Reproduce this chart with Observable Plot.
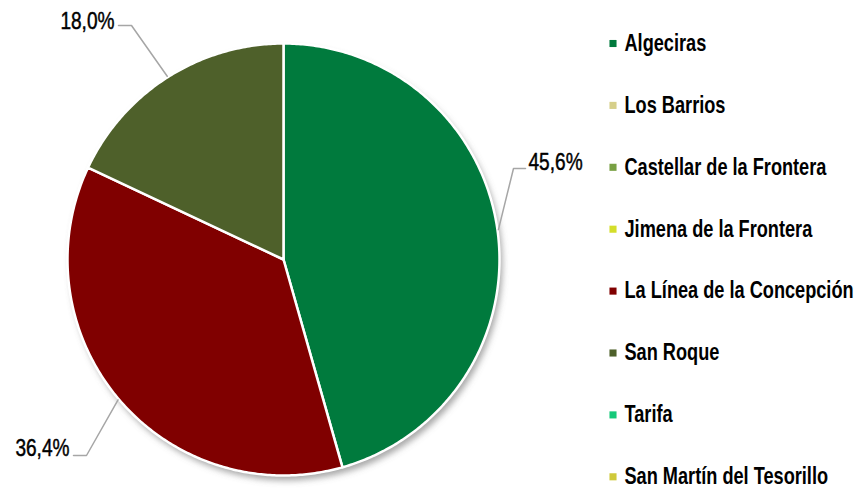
<!DOCTYPE html>
<html>
<head>
<meta charset="utf-8">
<script src="https://cdn.jsdelivr.net/npm/d3@7"></script>
<script src="https://cdn.jsdelivr.net/npm/@observablehq/plot@0.6"></script>
<style>
  html, body { margin: 0; padding: 0; background: #fff; }
  #chart svg { display: block; }
</style>
</head>
<body>
<div id="chart"></div>
<script>
// ---- data ----
const municipios = ["Algeciras", "Los Barrios", "Castellar de la Frontera", "Jimena de la Frontera",
  "La Línea de la Concepción", "San Roque", "Tarifa", "San Martín del Tesorillo"];
const porcentajes = [45.6, 0, 0, 0, 36.4, 18.0, 0, 0];
const etiquetas = ["45,6%", "", "", "", "36,4%", "18,0%", "", ""];
const colores = ["#007A3D", "#D6CF8A", "#78A043", "#D4DE2A", "#800000", "#4E602A", "#16C97A", "#CFC93A"];

// ---- layout ----
const W = 858, H = 490;
const cx = 283, cy = 259, R = 216;
const FONT = "'Liberation Sans', Arial, sans-serif";
// label placement (elbow point and text anchor) per labelled slice
const labelLayout = {
  "Algeciras": {elbow: [513, 168], end: [525, 168], text: [528, 162], anchor: "start"},
  "La Línea de la Concepción": {elbow: [86, 455], end: [73, 455], text: [69, 448], anchor: "end"},
  "San Roque": {elbow: [131, 25], end: [118, 25], text: [114, 21], anchor: "end"}
};

const rows = municipios.map((m, i) => ({name: m, value: porcentajes[i], label: etiquetas[i]}));
const arcs = d3.pie().sort(null).value(d => d.value)(rows);

// slice polygons
const pts = [];
for (const a of arcs) {
  if (a.data.value <= 0) continue;
  pts.push({name: a.data.name, x: cx, y: cy});
  const n = Math.max(4, Math.ceil((a.endAngle - a.startAngle) / 0.01));
  for (let k = 0; k <= n; k++) {
    const t = a.startAngle + (a.endAngle - a.startAngle) * k / n;
    pts.push({name: a.data.name, x: cx + R * Math.sin(t), y: cy - R * Math.cos(t)});
  }
}

// leader lines & labels
const leaders = [], labels = [];
for (const a of arcs) {
  if (a.data.value <= 0) continue;
  const L = labelLayout[a.data.name];
  const mid = (a.startAngle + a.endAngle) / 2;
  const p0 = {x: cx + (R + 1) * Math.sin(mid), y: cy - (R + 1) * Math.cos(mid)};
  leaders.push({name: a.data.name, x: p0.x, y: p0.y});
  leaders.push({name: a.data.name, x: L.elbow[0], y: L.elbow[1]});
  leaders.push({name: a.data.name, x: L.end[0], y: L.end[1]});
  labels.push({text: a.data.label, x: L.text[0], y: L.text[1], anchor: L.anchor});
}

const legend = municipios.map((m, i) => ({name: m, x: 612.5, y: 43 + i * 61.9}));

const svg = Plot.plot({
  width: W, height: H,
  margin: 0,
  x: {domain: [0, W], range: [0, W], axis: null},
  y: {domain: [0, H], range: [0, H], axis: null},
  color: {domain: municipios, range: colores},
  style: {fontFamily: FONT, background: "#fff"},
  marks: [
    // soft shadow
    Plot.dot([{x: cx + 3, y: cy + 5}], {x: "x", y: "y", r: R, fill: "#6e6e6e", fillOpacity: 0.6, stroke: null}),
    Plot.line(pts, {x: "x", y: "y", z: "name", fill: "name", stroke: "white", strokeWidth: 2.5,
      strokeLinejoin: "round", curve: "linear-closed"}),
    Plot.line(leaders, {x: "x", y: "y", z: "name", stroke: "#A6A6A6", strokeWidth: 1.5}),
    Plot.text(labels.filter(d => d.anchor === "start"), {x: "x", y: "y", text: "text", textAnchor: "start",
      fontSize: 23, fill: "#000", stroke: "#000", strokeWidth: 0.45}),
    Plot.text(labels.filter(d => d.anchor === "end"), {x: "x", y: "y", text: "text", textAnchor: "end",
      fontSize: 23, fill: "#000", stroke: "#000", strokeWidth: 0.45}),
    Plot.dot(legend, {x: "x", y: "y", fill: "name", symbol: "square", r: 4}),
    Plot.text(legend, {x: d => d.x + 11.5, y: "y", text: "name", textAnchor: "start", fontSize: 23,
      fontWeight: "bold", fill: "#000"})
  ]
});

const s = d3.select(svg);
// blur the shadow
s.insert("defs", ":first-child").append("filter").attr("id", "pieShadow")
  .attr("x", "-10%").attr("y", "-10%").attr("width", "120%").attr("height", "120%")
  .append("feGaussianBlur").attr("stdDeviation", 3);
s.select('g[aria-label="dot"]').attr("filter", "url(#pieShadow)");

// condense the text (narrow typeface look); scaling only x keeps the vertical em offset intact
const textGroups = s.selectAll('g[aria-label="text"]').nodes();
const squeeze = [0.83, 0.83, 0.79];
textGroups.forEach((g, gi) => {
  d3.select(g).selectAll("text").each(function () {
    const t = this.getAttribute("transform") || "";
    this.setAttribute("transform", `${t} scale(${squeeze[gi]},1)`);
  });
});

document.getElementById("chart").appendChild(svg);
</script>
</body>
</html>
